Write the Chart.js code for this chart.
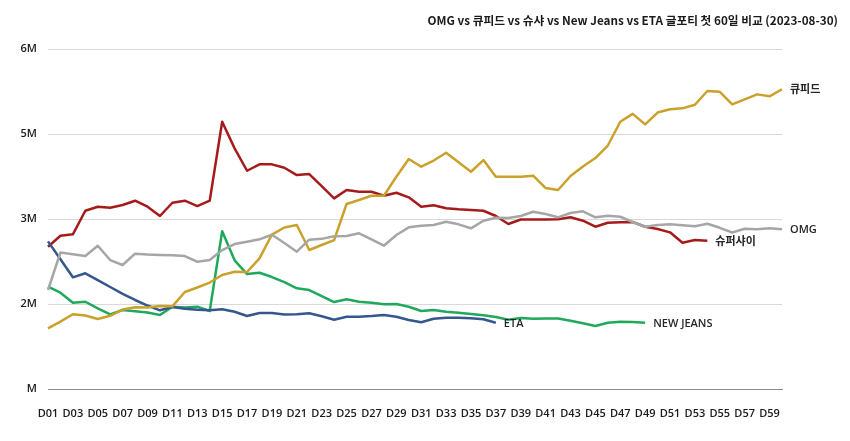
<!DOCTYPE html>
<html><head><meta charset="utf-8">
<script src="https://cdn.jsdelivr.net/npm/chart.js@4/dist/chart.umd.min.js"></script>
<style>html,body{margin:0;padding:0;background:#fff}#wrap{width:850px;height:441px}</style>
</head><body><div id="wrap"><canvas id="c" width="850" height="441"></canvas></div>
<script>
const days = ['D01','D02','D03','D04','D05','D06','D07','D08','D09','D10','D11','D12','D13','D14','D15','D16','D17','D18','D19','D20',
'D21','D22','D23','D24','D25','D26','D27','D28','D29','D30','D31','D32','D33','D34','D35','D36','D37','D38','D39','D40',
'D41','D42','D43','D44','D45','D46','D47','D48','D49','D50','D51','D52','D53','D54','D55','D56','D57','D58','D59','D60'];

// values in millions
const cupid = [1.071,1.188,1.320,1.297,1.235,1.292,1.403,1.442,1.438,1.465,1.459,1.712,1.791,1.879,2.012,2.068,2.065,2.306,2.726,2.850,
2.894,2.453,2.541,2.629,3.265,3.335,3.411,3.411,3.746,4.059,3.923,4.032,4.170,4.000,3.834,4.041,3.746,3.746,3.746,3.764,
3.547,3.512,3.759,3.926,4.076,4.297,4.717,4.856,4.671,4.879,4.937,4.953,5.017,5.259,5.246,5.024,5.112,5.200,5.165,5.290];
const omg = [1.747,2.409,2.379,2.347,2.529,2.276,2.188,2.388,2.373,2.365,2.361,2.347,2.246,2.276,2.453,2.559,2.599,2.642,2.723,2.576,
2.423,2.635,2.650,2.695,2.700,2.748,2.642,2.529,2.718,2.853,2.882,2.894,2.952,2.906,2.836,2.970,3.023,3.017,3.053,3.129,
3.088,3.030,3.106,3.136,3.030,3.058,3.040,2.947,2.864,2.894,2.906,2.889,2.873,2.917,2.845,2.762,2.829,2.820,2.836,2.818];
const superShy = [2.511,2.705,2.730,3.146,3.217,3.199,3.247,3.323,3.217,3.053,3.287,3.323,3.229,3.323,4.717,4.247,3.852,3.965,3.965,3.905,
3.776,3.794,3.582,3.365,3.512,3.482,3.482,3.411,3.464,3.383,3.217,3.242,3.189,3.171,3.159,3.146,3.053,2.912,2.991,2.991,
2.991,2.995,3.030,2.970,2.864,2.935,2.942,2.947,2.864,2.823,2.765,2.582,2.629,2.617];
const eta = [2.606,2.290,1.971,2.042,1.923,1.800,1.680,1.571,1.473,1.389,1.447,1.417,1.399,1.389,1.406,1.364,1.288,1.341,1.341,1.315,
1.318,1.336,1.283,1.223,1.276,1.276,1.288,1.306,1.276,1.218,1.177,1.241,1.258,1.258,1.248,1.230,1.170];
const newJeans = [1.805,1.699,1.523,1.540,1.424,1.318,1.394,1.371,1.350,1.306,1.452,1.438,1.452,1.376,2.783,2.271,2.029,2.052,1.976,1.885,
1.777,1.747,1.641,1.535,1.583,1.540,1.523,1.495,1.500,1.452,1.376,1.394,1.364,1.346,1.323,1.301,1.271,1.221,1.253,1.239,
1.244,1.244,1.205,1.159,1.112,1.170,1.188,1.182,1.170];

const seriesNames = ['OMG','큐피드','슈퍼샤이','ETA','NEW JEANS'];
const yTickValues = [0, 1.5, 3, 4.5, 6];
const yTickLabels = ['M','2M','3M','5M','6M'];
const titleText = 'OMG vs 큐피드 vs 슈샤 vs New Jeans vs ETA 글포티 첫 60일 비교 (2023-08-30)';

const FONT = "'Open Sans','Noto Sans CJK KR',sans-serif";

const endLabels = {
  id: 'endLabels',
  afterDatasetsDraw(chart) {
    const ctx = chart.ctx;
    chart.data.datasets.forEach((ds, i) => {
      const meta = chart.getDatasetMeta(i);
      const last = meta.data[ds.data.length - 1];
      if (!last) return;
      ctx.save();
      ctx.font = "600 11px " + FONT;
      ctx.fillStyle = '#262626';
      ctx.textBaseline = 'middle';
      ctx.textAlign = 'left';
      ctx.fillText(ds.label, last.x + 8, last.y + 1);
      ctx.restore();
    });
  }
};

const mk = (label, data, color) => ({label, data, borderColor: color, backgroundColor: color,
  borderWidth: 2.5, pointRadius: 0, tension: 0, fill: false, borderJoinStyle: 'round'});

new Chart(document.getElementById('c'), {
  type: 'line',
  data: {
    labels: days,
    datasets: [
      mk(seriesNames[0], omg, '#A6A6A6'),
      mk(seriesNames[1], cupid, '#C9A12B'),
      mk(seriesNames[3], eta, '#35578E'),
      mk(seriesNames[4], newJeans, '#20A85C'),
      mk(seriesNames[2], superShy, '#A51B1B')
    ]
  },
  options: {
    responsive: false,
    animation: false,
    devicePixelRatio: 1,
    layout: {padding: {left: 8, right: 12, top: 0, bottom: 0}},
    plugins: {
      legend: {display: false},
      tooltip: {enabled: false},
      title: {
        display: true, text: titleText, align: 'end', color: '#1a1a1a',
        font: {family: "'Noto Sans CJK KR','Open Sans',sans-serif", size: 11.7, weight: '600', lineHeight: 1.2},
        padding: {top: 14, bottom: 21}
      }
    },
    scales: {
      x: {
        grid: {display: false},
        border: {display: true, color: '#8C8C8C', width: 1},
        ticks: {
          autoSkip: false, maxRotation: 0, minRotation: 0, padding: 10,
          color: '#1a1a1a', font: {family: FONT, size: 11, weight: '600'},
          callback: (v, i) => (i % 2 === 0 ? days[i] : '')
        },
        afterFit: s => { s.height = 52; }
      },
      y: {
        min: 0, max: 6,
        afterBuildTicks: s => { s.ticks = yTickValues.map(v => ({value: v})); },
        grid: {drawTicks: false, color: c => (c.tick && c.tick.value === 0 ? '#8C8C8C' : '#D9D9D9'), lineWidth: 1},
        border: {display: false},
        ticks: {padding: 11, color: '#1a1a1a', font: {family: FONT, size: 11, weight: '600'},
          callback: (v, i) => yTickLabels[i]},
        afterFit: s => { s.width = 40; }
      },
      y2: {
        position: 'right', min: 0, max: 6,
        grid: {display: false}, border: {display: false},
        ticks: {display: false},
        afterFit: s => { s.width = 56; }
      }
    }
  },
  plugins: [endLabels]
});
</script>
</body></html>
